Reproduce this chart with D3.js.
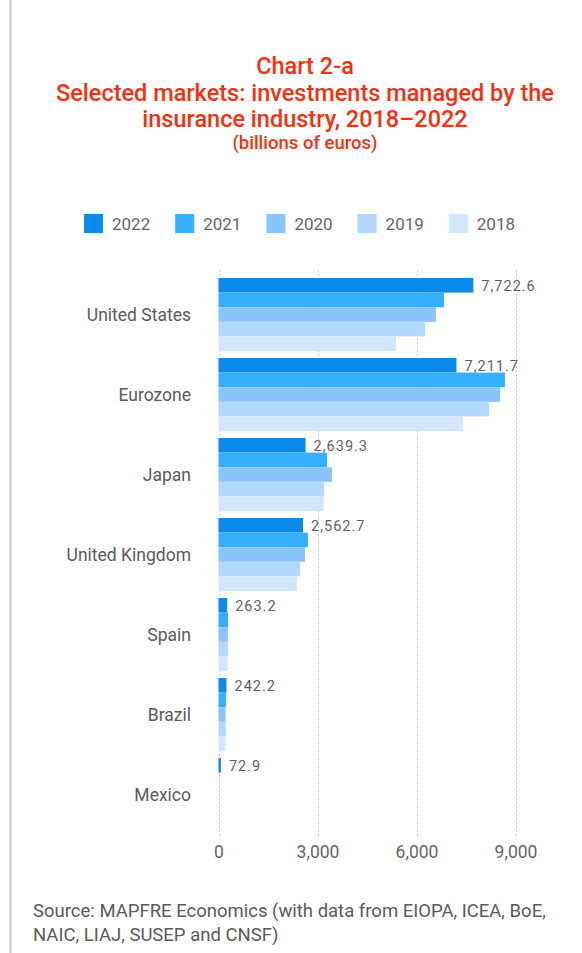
<!DOCTYPE html>
<html>
<head>
<meta charset="utf-8">
<script src="https://cdn.jsdelivr.net/npm/d3@7"></script>
<style>
  body { margin: 0; background: #fff; }
  text { font-family: Roboto, "Noto Sans", sans-serif; }
</style>
</head>
<body>
<div class="chart"></div>
<script>
// Data (billions of euros)
var markets = ["United States", "Eurozone", "Japan", "United Kingdom", "Spain", "Brazil", "Mexico"];
var years = ["2022", "2021", "2020", "2019", "2018"];
var v2022 = [7722.6, 7211.7, 2639.3, 2562.7, 263.2, 242.2, 72.9];
var v2021 = [6833, 8680, 3290, 2710, 290, 230, null];
var v2020 = [6590, 8530, 3440, 2620, 285, 215, null];
var v2019 = [6260, 8200, 3200, 2470, 290, 220, null];
var v2018 = [5380, 7410, 3190, 2380, 280, 215, null];
var xTicks = [0, 3000, 6000, 9000];
var colors = ["#0a8aea", "#36affe", "#89c4fb", "#b2d8fd", "#d2e7fd"];

var seriesValues = [v2022, v2021, v2020, v2019, v2018];

// Set up chart
var svgWidth = 582;
var svgHeight = 953;

var svg = d3.select(".chart")
  .append("svg")
  .attr("width", svgWidth)
  .attr("height", svgHeight);

// Left border line
svg.append("line")
  .attr("x1", 10.5).attr("x2", 10.5)
  .attr("y1", 0).attr("y2", svgHeight)
  .attr("stroke", "#c8c8c8")
  .attr("stroke-width", 2);

// Title
var titleColor = "#f5300f";
var titleLines = [
  { t: "Chart 2-a", y: 74, size: 23.5 },
  { t: "Selected markets: investments managed by the", y: 101, size: 23.5 },
  { t: "insurance industry, 2018\u20132022", y: 127, size: 23.5 },
  { t: "(billions of euros)", y: 149, size: 18.5 }
];
svg.selectAll(".title")
  .data(titleLines)
  .enter()
  .append("text")
  .attr("class", "title")
  .attr("x", 305)
  .attr("y", d => d.y)
  .attr("text-anchor", "middle")
  .attr("fill", titleColor)
  .attr("font-weight", 500)
  .attr("font-size", d => d.size)
  .text(d => d.t);

// Legend
var legend = svg.append("g")
  .attr("transform", "translate(84, 214)");
var legendItems = legend.selectAll("g")
  .data(years)
  .enter()
  .append("g")
  .attr("transform", (d, i) => `translate(${i * 91.2}, 0)`);
legendItems.append("rect")
  .attr("width", 19)
  .attr("height", 19)
  .attr("fill", (d, i) => colors[i]);
legendItems.append("text")
  .attr("x", 28)
  .attr("y", 16)
  .attr("font-size", 17)
  .attr("fill", "#666")
  .text(d => d);

// Scales
var xScale = d3.scaleLinear()
  .domain([0, 9000])
  .range([218.5, 515.5]);

var yScale = d3.scaleBand()
  .domain(markets)
  .range([274.5, 834.5])
  .paddingInner(0.0875)
  .paddingOuter(0.04375);

var yInner = d3.scaleBand()
  .domain(years)
  .range([0, yScale.bandwidth()]);

// Gridlines
svg.append("g")
  .selectAll("line")
  .data(xTicks)
  .enter()
  .append("line")
  .attr("x1", d => Math.round(xScale(d)) + 0.5)
  .attr("x2", d => Math.round(xScale(d)) + 0.5)
  .attr("y1", 270)
  .attr("y2", 836)
  .attr("stroke", "#c9c9c9")
  .attr("stroke-dasharray", "2,2");

// Bars
var groups = svg.append("g")
  .selectAll("g")
  .data(markets)
  .enter()
  .append("g")
  .attr("transform", d => `translate(0, ${yScale(d)})`);

groups.selectAll("rect")
  .data((m, mi) => years.map((y, yi) => ({ year: y, yi: yi, value: seriesValues[yi][mi] })))
  .enter()
  .filter(d => d.value != null)
  .append("rect")
  .attr("x", xScale(0))
  .attr("y", d => yInner(d.year))
  .attr("width", d => xScale(d.value) - xScale(0))
  .attr("height", yInner.bandwidth())
  .attr("fill", d => colors[d.yi]);

// Value labels for 2022
var fmt = d3.format(",.1f");
groups.append("text")
  .attr("x", (d, i) => xScale(v2022[i]) + 8)
  .attr("y", yInner("2022") + yInner.bandwidth() / 2 + 5.5)
  .attr("font-size", 14.5)
  .attr("letter-spacing", 1)
  .attr("fill", "#5f5f6a")
  .text((d, i) => fmt(v2022[i]));

// Category labels
svg.append("g")
  .selectAll("text")
  .data(markets)
  .enter()
  .append("text")
  .attr("x", 191)
  .attr("y", d => yScale(d) + yScale.bandwidth() / 2 + 6)
  .attr("text-anchor", "end")
  .attr("font-size", 17.5)
  .attr("fill", "#5a5a5a")
  .text(d => d);

// X axis labels
var xAxis = d3.axisBottom(xScale)
  .tickValues(xTicks)
  .tickFormat(d3.format(","))
  .tickSize(0)
  .tickPadding(0);
var axisG = svg.append("g")
  .attr("transform", "translate(0, 846)")
  .call(xAxis);
axisG.select(".domain").remove();
axisG.selectAll("text")
  .attr("font-size", 17.5)
  .attr("fill", "#666")
  .attr("font-family", "Roboto, sans-serif");

// Source
var sourceLines = [
  "Source: MAPFRE Economics (with data from EIOPA, ICEA, BoE,",
  "NAIC, LIAJ, SUSEP and CNSF)"
];
svg.selectAll(".source")
  .data(sourceLines)
  .enter()
  .append("text")
  .attr("class", "source")
  .attr("x", 33)
  .attr("y", (d, i) => 917 + i * 24)
  .attr("font-size", 18.5)
  .attr("fill", "#5a5a5a")
  .text(d => d);
</script>
</body>
</html>
